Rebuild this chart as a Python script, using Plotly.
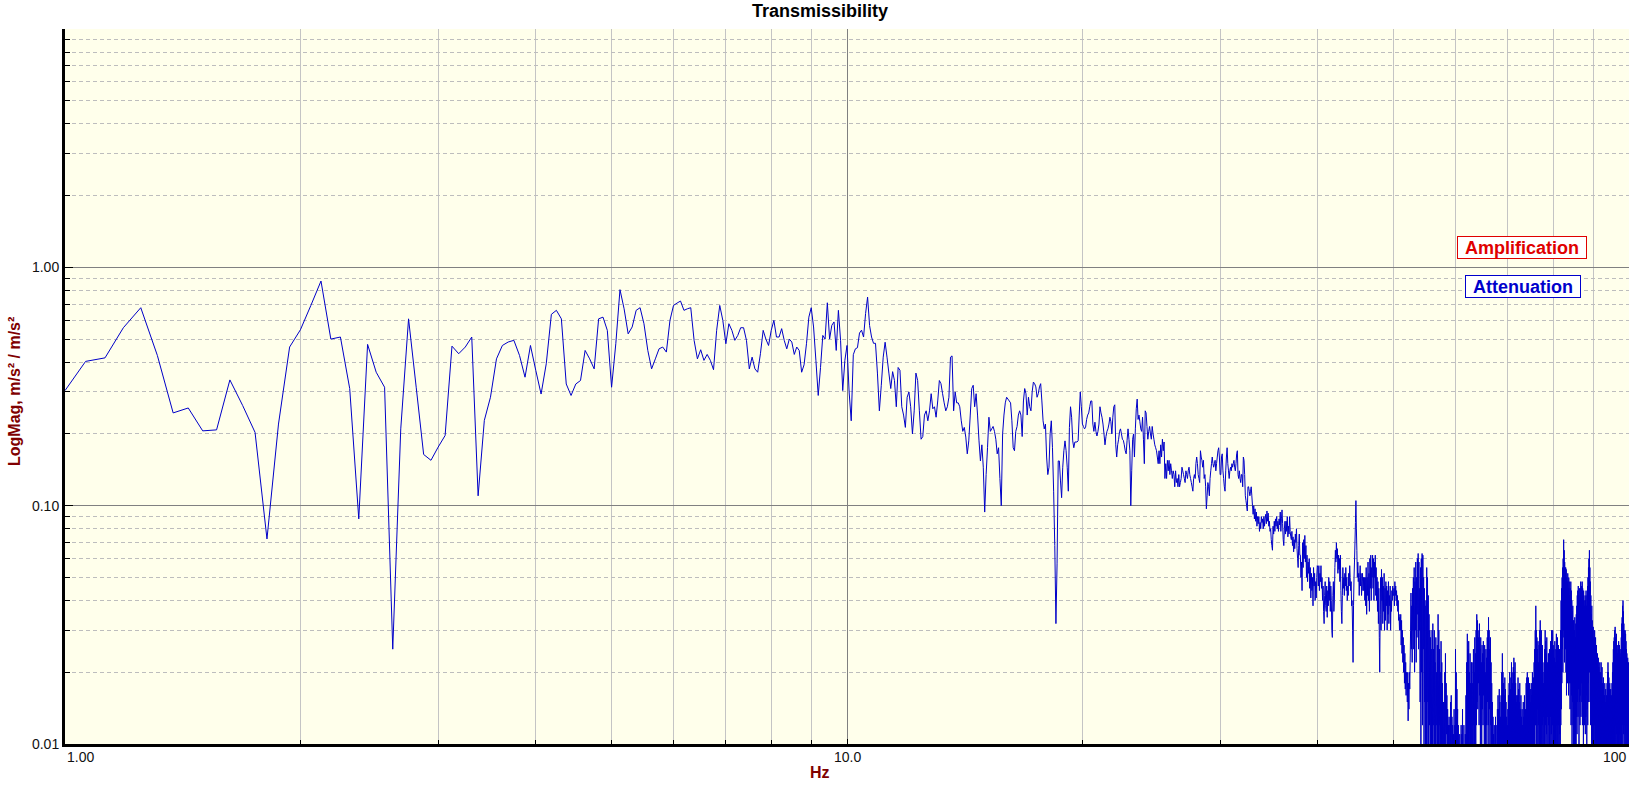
import math
import plotly.graph_objects as go

# ---------------- text ----------------
title_text = "Transmissibility"
x_title = "Hz"
y_title = "LogMag, m/s² / m/s²"
amp_label = "Amplification"
att_label = "Attenuation"

# ---------------- ticks ----------------
x_major_vals = [1, 10]
x_label_vals = [1, 10, 100]
x_label_text = ["1.00", "10.0", "100"]
x_minor_vals = [2, 3, 4, 5, 6, 7, 8, 9, 20, 30, 40, 50, 60, 70, 80, 90]
y_major_vals = [0.01, 0.1, 1]
y_major_text = ["0.01", "0.10", "1.00"]
y_minor_vals = [0.02, 0.03, 0.04, 0.05, 0.06, 0.07, 0.08, 0.09,
                0.2, 0.3, 0.4, 0.5, 0.6, 0.7, 0.8, 0.9,
                2, 3, 4, 5, 6, 7, 8, 9]

# ---------------- data ----------------
# analyzer lines: 16 per Hz (0.0625 Hz spacing); each row = one Hz, starting at its integer
f_start = 1.0
f_step = 0.0625

mag_01_09 = [
    [0.304, 0.403, 0.417, 0.558, 0.677, 0.427, 0.245, 0.257, 0.206, 0.208, 0.337, 0.263, 0.203, 0.0725, 0.22, 0.463],
    [0.547, 0.692, 0.876, 0.50, 0.51, 0.31, 0.088, 0.475, 0.363, 0.314, 0.025, 0.21, 0.608, 0.314, 0.164, 0.155],
    [0.176, 0.197, 0.467, 0.434, 0.463, 0.51, 0.11, 0.228, 0.285, 0.413, 0.47, 0.486, 0.494, 0.427, 0.346, 0.47],
    [0.369, 0.294, 0.394, 0.635, 0.66, 0.608, 0.324, 0.29, 0.324, 0.335, 0.448, 0.413, 0.375, 0.608, 0.618, 0.544],
    [0.314, 0.478, 0.806, 0.67, 0.526, 0.562, 0.66, 0.677, 0.58, 0.448, 0.375, 0.413, 0.455, 0.463, 0.441, 0.599],
    [0.692, 0.708, 0.722, 0.66, 0.67, 0.677, 0.494, 0.413, 0.451, 0.407, 0.431, 0.407, 0.372, 0.544, 0.692, 0.599],
    [0.478, 0.58, 0.544, 0.494, 0.518, 0.558, 0.558, 0.494, 0.375, 0.42, 0.375, 0.363, 0.434, 0.544, 0.5, 0.47],
    [0.544, 0.599, 0.51, 0.51, 0.553, 0.494, 0.455, 0.5, 0.486, 0.431, 0.463, 0.448, 0.363, 0.39, 0.478, 0.618],
    [0.677, 0.562, 0.407, 0.29, 0.38, 0.518, 0.5, 0.71, 0.5, 0.571, 0.59, 0.448, 0.66, 0.494, 0.304, 0.407],
]

mag_10_21 = [
    [0.47, 0.30, 0.227, 0.43, 0.455, 0.46, 0.53, 0.545, 0.51, 0.64, 0.75, 0.57, 0.51, 0.48, 0.48, 0.36],
    [0.25, 0.32, 0.42, 0.485, 0.42, 0.36, 0.31, 0.365, 0.335, 0.26, 0.38, 0.37, 0.26, 0.24, 0.213, 0.285],
    [0.30, 0.26, 0.20, 0.25, 0.36, 0.335, 0.25, 0.19, 0.195, 0.24, 0.25, 0.227, 0.25, 0.295, 0.255, 0.26],
    [0.235, 0.275, 0.335, 0.325, 0.295, 0.27, 0.25, 0.26, 0.285, 0.42, 0.425, 0.25, 0.30, 0.27, 0.27, 0.26],
    [0.227, 0.205, 0.213, 0.194, 0.165, 0.187, 0.24, 0.31, 0.32, 0.26, 0.295, 0.24, 0.187, 0.154, 0.18, 0.145],
    [0.094, 0.135, 0.175, 0.235, 0.205, 0.21, 0.215, 0.205, 0.19, 0.165, 0.175, 0.13, 0.10, 0.20, 0.24, 0.27],
    [0.285, 0.28, 0.275, 0.27, 0.227, 0.175, 0.17, 0.205, 0.215, 0.24, 0.25, 0.24, 0.195, 0.275, 0.31, 0.295],
    [0.24, 0.285, 0.26, 0.25, 0.30, 0.33, 0.325, 0.315, 0.285, 0.295, 0.315, 0.325, 0.275, 0.227, 0.21, 0.22],
    [0.16, 0.135, 0.145, 0.20, 0.227, 0.175, 0.115, 0.068, 0.032, 0.057, 0.154, 0.154, 0.127, 0.108, 0.145, 0.17],
    [0.187, 0.17, 0.145, 0.115, 0.213, 0.26, 0.235, 0.187, 0.175, 0.185, 0.185, 0.185, 0.187, 0.24, 0.30, 0.26],
    [0.22, 0.215, 0.21, 0.213, 0.23, 0.24, 0.245, 0.26, 0.275, 0.275, 0.22, 0.205, 0.224, 0.205, 0.196, 0.205],
    [0.22, 0.26, 0.245, 0.235, 0.22, 0.20, 0.18, 0.195, 0.205, 0.21, 0.22, 0.235, 0.225, 0.20, 0.235, 0.26],
]

mag_22_45 = [
    [0.265, 0.18, 0.16, 0.18, 0.19, 0.205, 0.21, 0.2, 0.19, 0.188, 0.18, 0.17, 0.165, 0.188, 0.21, 0.19],
    [0.17, 0.10, 0.14, 0.19, 0.2, 0.16, 0.21, 0.255, 0.28, 0.23, 0.24, 0.225, 0.21, 0.205, 0.235, 0.19],
    [0.15, 0.25, 0.245, 0.215, 0.19, 0.205, 0.215, 0.2, 0.19, 0.215, 0.2, 0.19, 0.18, 0.175, 0.17, 0.16],
    [0.15, 0.17, 0.15, 0.18, 0.16, 0.19, 0.17, 0.185, 0.13, 0.15, 0.13, 0.155, 0.14, 0.155, 0.135, 0.15],
    [0.14, 0.13, 0.14, 0.135, 0.12, 0.14, 0.125, 0.13, 0.12, 0.135, 0.12, 0.125, 0.13, 0.145, 0.14, 0.135],
    [0.13, 0.125, 0.14, 0.135, 0.13, 0.14, 0.145, 0.135, 0.13, 0.125, 0.12, 0.115, 0.13, 0.135, 0.13, 0.15],
    [0.16, 0.15, 0.135, 0.13, 0.125, 0.17, 0.16, 0.155, 0.145, 0.155, 0.13, 0.135, 0.12, 0.097, 0.11, 0.125],
    [0.12, 0.11, 0.13, 0.14, 0.15, 0.16, 0.15, 0.145, 0.15, 0.155, 0.14, 0.15, 0.16, 0.17, 0.175, 0.16],
    [0.135, 0.135, 0.16, 0.165, 0.14, 0.13, 0.12, 0.115, 0.14, 0.16, 0.175, 0.15, 0.14, 0.13, 0.14, 0.145],
    [0.14, 0.15, 0.145, 0.15, 0.155, 0.145, 0.14, 0.15, 0.165, 0.17, 0.135, 0.13, 0.14, 0.13, 0.125, 0.135],
    [0.135, 0.12, 0.16, 0.155, 0.135, 0.11, 0.105, 0.1, 0.095, 0.12, 0.12, 0.115, 0.11, 0.115, 0.12, 0.11],
    [0.1, 0.092, 0.1, 0.088, 0.097, 0.086, 0.094, 0.082, 0.09, 0.084, 0.09, 0.078, 0.085, 0.08, 0.09, 0.085],
    [0.088, 0.08, 0.09, 0.082, 0.088, 0.092, 0.084, 0.095, 0.086, 0.093, 0.082, 0.086, 0.078, 0.08, 0.072, 0.068],
    [0.065, 0.082, 0.076, 0.086, 0.078, 0.088, 0.082, 0.09, 0.08, 0.086, 0.078, 0.088, 0.083, 0.094, 0.078, 0.088],
    [0.096, 0.084, 0.072, 0.068, 0.08, 0.086, 0.076, 0.086, 0.078, 0.09, 0.074, 0.082, 0.076, 0.09, 0.078, 0.074],
    [0.072, 0.078, 0.068, 0.074, 0.064, 0.072, 0.066, 0.076, 0.07, 0.08, 0.066, 0.06, 0.055, 0.068, 0.076, 0.062],
    [0.062, 0.05, 0.058, 0.044, 0.07, 0.055, 0.072, 0.06, 0.075, 0.058, 0.068, 0.05, 0.062, 0.048, 0.058, 0.052],
    [0.06, 0.045, 0.055, 0.041, 0.052, 0.044, 0.05, 0.038, 0.055, 0.046, 0.052, 0.04, 0.048, 0.041, 0.05, 0.056],
    [0.055, 0.046, 0.056, 0.044, 0.052, 0.048, 0.056, 0.045, 0.05, 0.04, 0.046, 0.036, 0.032, 0.042, 0.048, 0.038],
    [0.036, 0.046, 0.034, 0.044, 0.038, 0.05, 0.04, 0.048, 0.036, 0.046, 0.04, 0.03, 0.028, 0.042, 0.048, 0.036],
    [0.04, 0.055, 0.065, 0.058, 0.07, 0.06, 0.066, 0.052, 0.062, 0.054, 0.06, 0.048, 0.062, 0.044, 0.036, 0.032],
    [0.042, 0.055, 0.045, 0.05, 0.042, 0.052, 0.046, 0.055, 0.044, 0.05, 0.04, 0.046, 0.042, 0.052, 0.046, 0.056],
    [0.05, 0.044, 0.048, 0.038, 0.04, 0.03, 0.022, 0.038, 0.05, 0.058, 0.07, 0.085, 0.105, 0.08, 0.065, 0.05],
    [0.058, 0.048, 0.052, 0.042, 0.05, 0.056, 0.046, 0.052, 0.042, 0.048, 0.052, 0.044, 0.05, 0.044, 0.05, 0.04],
]

mag_46_99 = [
    [0.05, 0.038, 0.055, 0.035, 0.05, 0.042, 0.058, 0.04, 0.052, 0.036, 0.06, 0.045, 0.062, 0.04, 0.055, 0.05],
    [0.062, 0.045, 0.06, 0.04, 0.058, 0.05, 0.062, 0.042, 0.055, 0.04, 0.05, 0.036, 0.048, 0.032, 0.045, 0.028],
    [0.02, 0.035, 0.05, 0.03, 0.054, 0.04, 0.05, 0.032, 0.046, 0.036, 0.052, 0.03, 0.045, 0.033, 0.048, 0.038],
    [0.046, 0.03, 0.044, 0.035, 0.048, 0.032, 0.042, 0.038, 0.046, 0.03, 0.04, 0.036, 0.044, 0.04, 0.046, 0.042],
    [0.042, 0.045, 0.038, 0.048, 0.042, 0.046, 0.04, 0.044, 0.038, 0.042, 0.036, 0.04, 0.033, 0.035, 0.03, 0.034],
    [0.03, 0.035, 0.026, 0.033, 0.024, 0.03, 0.022, 0.028, 0.02, 0.026, 0.018, 0.024, 0.017, 0.022, 0.016, 0.02],
    [0.018, 0.015, 0.02, 0.0125, 0.018, 0.014, 0.02, 0.017, 0.022, 0.03, 0.043, 0.025, 0.038, 0.022, 0.045, 0.03],
    [0.05, 0.025, 0.055, 0.02, 0.048, 0.03, 0.058, 0.022, 0.05, 0.028, 0.06, 0.035, 0.063, 0.025, 0.058, 0.03],
    [0.045, 0.015, 0.055, 0.008, 0.06, 0.02, 0.063, 0.012, 0.062, 0.025, 0.05, 0.008, 0.045, 0.015, 0.038, 0.006],
    [0.04, 0.01, 0.055, 0.007, 0.05, 0.015, 0.042, 0.006, 0.035, 0.012, 0.03, 0.005, 0.028, 0.01, 0.025, 0.006],
    [0.03, 0.008, 0.032, 0.012, 0.025, 0.006, 0.03, 0.01, 0.022, 0.007, 0.028, 0.012, 0.02, 0.005, 0.026, 0.009],
    [0.035, 0.01, 0.03, 0.006, 0.025, 0.012, 0.02, 0.007, 0.027, 0.01, 0.022, 0.005, 0.018, 0.008, 0.015, 0.006],
    [0.015, 0.006, 0.02, 0.01, 0.024, 0.007, 0.018, 0.011, 0.016, 0.005, 0.014, 0.008, 0.012, 0.006, 0.013, 0.004],
    [0.012, 0.006, 0.015, 0.009, 0.016, 0.005, 0.013, 0.008, 0.012, 0.004, 0.011, 0.007, 0.014, 0.006, 0.012, 0.005],
    [0.025, 0.008, 0.02, 0.006, 0.017, 0.01, 0.014, 0.005, 0.012, 0.007, 0.01, 0.004, 0.011, 0.006, 0.009, 0.005],
    [0.012, 0.005, 0.011, 0.007, 0.014, 0.004, 0.01, 0.006, 0.012, 0.005, 0.009, 0.004, 0.011, 0.006, 0.016, 0.008],
    [0.022, 0.008, 0.029, 0.01, 0.025, 0.006, 0.027, 0.012, 0.02, 0.007, 0.024, 0.009, 0.018, 0.005, 0.022, 0.01],
    [0.022, 0.007, 0.018, 0.012, 0.025, 0.008, 0.02, 0.006, 0.028, 0.01, 0.024, 0.007, 0.03, 0.012, 0.035, 0.015],
    [0.033, 0.014, 0.03, 0.018, 0.028, 0.012, 0.032, 0.016, 0.025, 0.01, 0.028, 0.015, 0.022, 0.009, 0.026, 0.014],
    [0.024, 0.012, 0.027, 0.016, 0.022, 0.009, 0.026, 0.014, 0.02, 0.008, 0.025, 0.012, 0.023, 0.01, 0.028, 0.015],
    [0.03, 0.012, 0.034, 0.01, 0.03, 0.014, 0.025, 0.008, 0.028, 0.012, 0.022, 0.007, 0.018, 0.01, 0.015, 0.006],
    [0.013, 0.005, 0.011, 0.007, 0.012, 0.004, 0.01, 0.006, 0.013, 0.005, 0.012, 0.004, 0.01, 0.006, 0.014, 0.007],
    [0.016, 0.006, 0.014, 0.008, 0.017, 0.005, 0.015, 0.007, 0.013, 0.005, 0.016, 0.008, 0.02, 0.006, 0.024, 0.009],
    [0.02, 0.008, 0.018, 0.006, 0.016, 0.01, 0.019, 0.005, 0.017, 0.007, 0.015, 0.005, 0.013, 0.008, 0.012, 0.004],
    [0.014, 0.006, 0.016, 0.009, 0.018, 0.005, 0.02, 0.008, 0.017, 0.006, 0.019, 0.01, 0.022, 0.007, 0.02, 0.009],
    [0.018, 0.008, 0.021, 0.006, 0.023, 0.01, 0.02, 0.007, 0.022, 0.009, 0.018, 0.005, 0.016, 0.008, 0.015, 0.006],
    [0.016, 0.006, 0.019, 0.009, 0.017, 0.005, 0.015, 0.008, 0.018, 0.006, 0.014, 0.009, 0.016, 0.005, 0.013, 0.007],
    [0.014, 0.005, 0.012, 0.008, 0.015, 0.006, 0.013, 0.004, 0.016, 0.007, 0.012, 0.005, 0.014, 0.008, 0.018, 0.006],
    [0.019, 0.007, 0.02, 0.01, 0.017, 0.006, 0.019, 0.009, 0.016, 0.005, 0.018, 0.008, 0.015, 0.006, 0.017, 0.01],
    [0.018, 0.007, 0.016, 0.01, 0.02, 0.006, 0.017, 0.009, 0.019, 0.006, 0.022, 0.01, 0.025, 0.008, 0.03, 0.012],
    [0.038, 0.012, 0.03, 0.009, 0.028, 0.014, 0.025, 0.008, 0.027, 0.012, 0.022, 0.01, 0.026, 0.007, 0.03, 0.013],
    [0.033, 0.01, 0.028, 0.014, 0.03, 0.008, 0.024, 0.012, 0.026, 0.009, 0.02, 0.013, 0.018, 0.007, 0.022, 0.01],
    [0.025, 0.009, 0.03, 0.012, 0.027, 0.008, 0.024, 0.011, 0.028, 0.007, 0.022, 0.013, 0.02, 0.009, 0.024, 0.012],
    [0.022, 0.01, 0.025, 0.008, 0.02, 0.013, 0.027, 0.009, 0.024, 0.011, 0.03, 0.008, 0.028, 0.012, 0.03, 0.01],
    [0.026, 0.009, 0.025, 0.012, 0.023, 0.008, 0.027, 0.011, 0.022, 0.007, 0.025, 0.013, 0.029, 0.009, 0.024, 0.012],
    [0.028, 0.01, 0.024, 0.008, 0.026, 0.012, 0.022, 0.009, 0.025, 0.011, 0.02, 0.008, 0.03, 0.012, 0.04, 0.014],
    [0.045, 0.018, 0.05, 0.025, 0.055, 0.02, 0.06, 0.03, 0.072, 0.028, 0.065, 0.022, 0.058, 0.03, 0.055, 0.025],
    [0.055, 0.02, 0.054, 0.016, 0.05, 0.022, 0.048, 0.018, 0.052, 0.025, 0.045, 0.016, 0.05, 0.02, 0.048, 0.018],
    [0.042, 0.014, 0.045, 0.018, 0.048, 0.012, 0.044, 0.016, 0.04, 0.01, 0.036, 0.015, 0.038, 0.012, 0.033, 0.009],
    [0.033, 0.012, 0.03, 0.009, 0.034, 0.014, 0.028, 0.01, 0.032, 0.008, 0.035, 0.013, 0.038, 0.011, 0.042, 0.015],
    [0.044, 0.013, 0.046, 0.017, 0.042, 0.01, 0.045, 0.015, 0.04, 0.012, 0.045, 0.016, 0.048, 0.013, 0.044, 0.018],
    [0.046, 0.015, 0.048, 0.012, 0.045, 0.018, 0.042, 0.01, 0.044, 0.014, 0.04, 0.012, 0.038, 0.016, 0.042, 0.011],
    [0.04, 0.013, 0.044, 0.016, 0.038, 0.01, 0.042, 0.014, 0.046, 0.012, 0.05, 0.018, 0.055, 0.015, 0.06, 0.02],
    [0.065, 0.02, 0.055, 0.015, 0.048, 0.012, 0.042, 0.016, 0.035, 0.01, 0.038, 0.014, 0.033, 0.009, 0.03, 0.012],
    [0.031, 0.01, 0.028, 0.008, 0.026, 0.012, 0.03, 0.009, 0.025, 0.007, 0.028, 0.011, 0.024, 0.008, 0.026, 0.01],
    [0.022, 0.008, 0.024, 0.01, 0.02, 0.007, 0.023, 0.009, 0.021, 0.006, 0.02, 0.009, 0.022, 0.007, 0.019, 0.01],
    [0.02, 0.007, 0.022, 0.009, 0.019, 0.006, 0.021, 0.008, 0.018, 0.006, 0.017, 0.009, 0.019, 0.006, 0.016, 0.008],
    [0.016, 0.006, 0.018, 0.008, 0.015, 0.005, 0.017, 0.007, 0.014, 0.006, 0.016, 0.008, 0.018, 0.005, 0.02, 0.007],
    [0.022, 0.008, 0.02, 0.006, 0.019, 0.009, 0.017, 0.006, 0.018, 0.008, 0.016, 0.005, 0.017, 0.008, 0.015, 0.006],
    [0.016, 0.007, 0.018, 0.009, 0.02, 0.006, 0.022, 0.01, 0.025, 0.008, 0.027, 0.011, 0.028, 0.009, 0.03, 0.012],
    [0.031, 0.01, 0.028, 0.012, 0.026, 0.008, 0.029, 0.011, 0.025, 0.009, 0.024, 0.007, 0.026, 0.01, 0.023, 0.008],
    [0.027, 0.009, 0.025, 0.011, 0.026, 0.007, 0.024, 0.01, 0.023, 0.008, 0.025, 0.012, 0.028, 0.009, 0.032, 0.01],
    [0.034, 0.012, 0.038, 0.01, 0.04, 0.014, 0.036, 0.011, 0.032, 0.009, 0.03, 0.012, 0.028, 0.008, 0.03, 0.011],
    [0.029, 0.01, 0.027, 0.008, 0.025, 0.012, 0.024, 0.009, 0.022, 0.007, 0.023, 0.01, 0.021, 0.008, 0.022, 0.009],
]
mag_100 = [0.02]

# ---------------- build series ----------------
freq, mag = [], []
for k, row in enumerate(mag_01_09 + mag_10_21 + mag_22_45 + mag_46_99):
    hz = f_start + k
    for j, v in enumerate(row):
        freq.append(hz + f_step * j)
        mag.append(v)
freq.append(100.0)
mag.extend(mag_100)

# ---------------- figure ----------------
FONT = "Liberation Sans, Arial, sans-serif"
W, H = 1638, 788
L, R, T, B = 65, 9, 29, 44
plot_w, plot_h = W - L - R, H - T - B


def px_x(px):
    return (px - L) / plot_w


def px_y(py):
    return (H - B - py) / plot_h


fig = go.Figure()
fig.add_trace(go.Scatter(
    x=freq, y=mag, mode="lines",
    line=dict(color="#0000C8", width=1, simplify=False),
    hoverinfo="skip", showlegend=False,
))

fig.update_layout(
    width=W, height=H,
    margin=dict(l=L, r=R, t=T, b=B, pad=0),
    paper_bgcolor="white",
    plot_bgcolor="#FFFFEB",
    font=dict(family=FONT, size=14, color="#111111"),
    showlegend=False,
    title=dict(text=title_text, x=820 / W, xref="container", xanchor="center",
               y=1 - 11 / H, yref="container", yanchor="middle",
               font=dict(family=FONT, size=18, color="black", weight="bold")),
)

fig.update_xaxes(
    type="log", range=[0, 2],
    tickvals=x_major_vals, showticklabels=False,
    ticks="inside", ticklen=5, tickcolor="black", tickwidth=1,
    showgrid=True, gridcolor="#808080", gridwidth=1,
    showline=True, linecolor="black", linewidth=3, zeroline=False,
    minor=dict(tickvals=x_minor_vals, ticks="inside", ticklen=4, tickcolor="black",
               showgrid=True, gridcolor="#C4C4C4", gridwidth=1, griddash="solid"),
)
fig.update_yaxes(
    type="log", range=[-2, 1],
    tickvals=y_major_vals, ticktext=y_major_text,
    tickfont=dict(family=FONT, size=14, color="#111111"),
    ticks="inside", ticklen=8, tickcolor="black", tickwidth=1,
    showgrid=True, gridcolor="#808080", gridwidth=1,
    showline=True, linecolor="black", linewidth=3, zeroline=False,
    minor=dict(tickvals=y_minor_vals, ticks="inside", ticklen=5, tickcolor="black",
               showgrid=True, gridcolor="#BDBDBD", gridwidth=1, griddash="4px,3px"),
)

annotations = []
# x tick labels (edge labels kept inside the figure)
anchors = ["left", "center", "right"]
for v, t, a in zip(x_label_vals, x_label_text, anchors):
    annotations.append(dict(text=t, x=math.log10(v), xref="x", y=px_y(757), yref="paper",
                            xanchor=a, yanchor="middle", showarrow=False,
                            font=dict(family=FONT, size=14, color="#111111")))
# axis titles
annotations.append(dict(text=x_title, x=px_x(820), xref="paper", y=px_y(772), yref="paper",
                        xanchor="center", yanchor="middle", showarrow=False,
                        font=dict(family=FONT, size=16, color="#800000", weight="bold")))
annotations.append(dict(text=y_title, x=px_x(14), xref="paper", y=px_y(392), yref="paper",
                        xanchor="center", yanchor="middle", textangle=-90, showarrow=False,
                        font=dict(family=FONT, size=16, color="#800000", weight="bold")))
# amplification / attenuation markers
annotations.append(dict(text=amp_label, x=px_x(1522), xref="paper", y=px_y(247.5), yref="paper",
                        xanchor="center", yanchor="middle", showarrow=False,
                        width=128, height=21, borderpad=0, borderwidth=1,
                        bordercolor="#E00000", bgcolor="white",
                        font=dict(family=FONT, size=18, color="#E00000", weight="bold")))
annotations.append(dict(text=att_label, x=px_x(1523), xref="paper", y=px_y(286.5), yref="paper",
                        xanchor="center", yanchor="middle", showarrow=False,
                        width=114, height=21, borderpad=0, borderwidth=1,
                        bordercolor="#0000CC", bgcolor="white",
                        font=dict(family=FONT, size=18, color="#0000CC", weight="bold")))
fig.update_layout(annotations=annotations)

fig.write_html("out.html",
               config={"displayModeBar": False},
               post_script="document.body.style.margin='0';document.body.style.overflow='hidden';")
